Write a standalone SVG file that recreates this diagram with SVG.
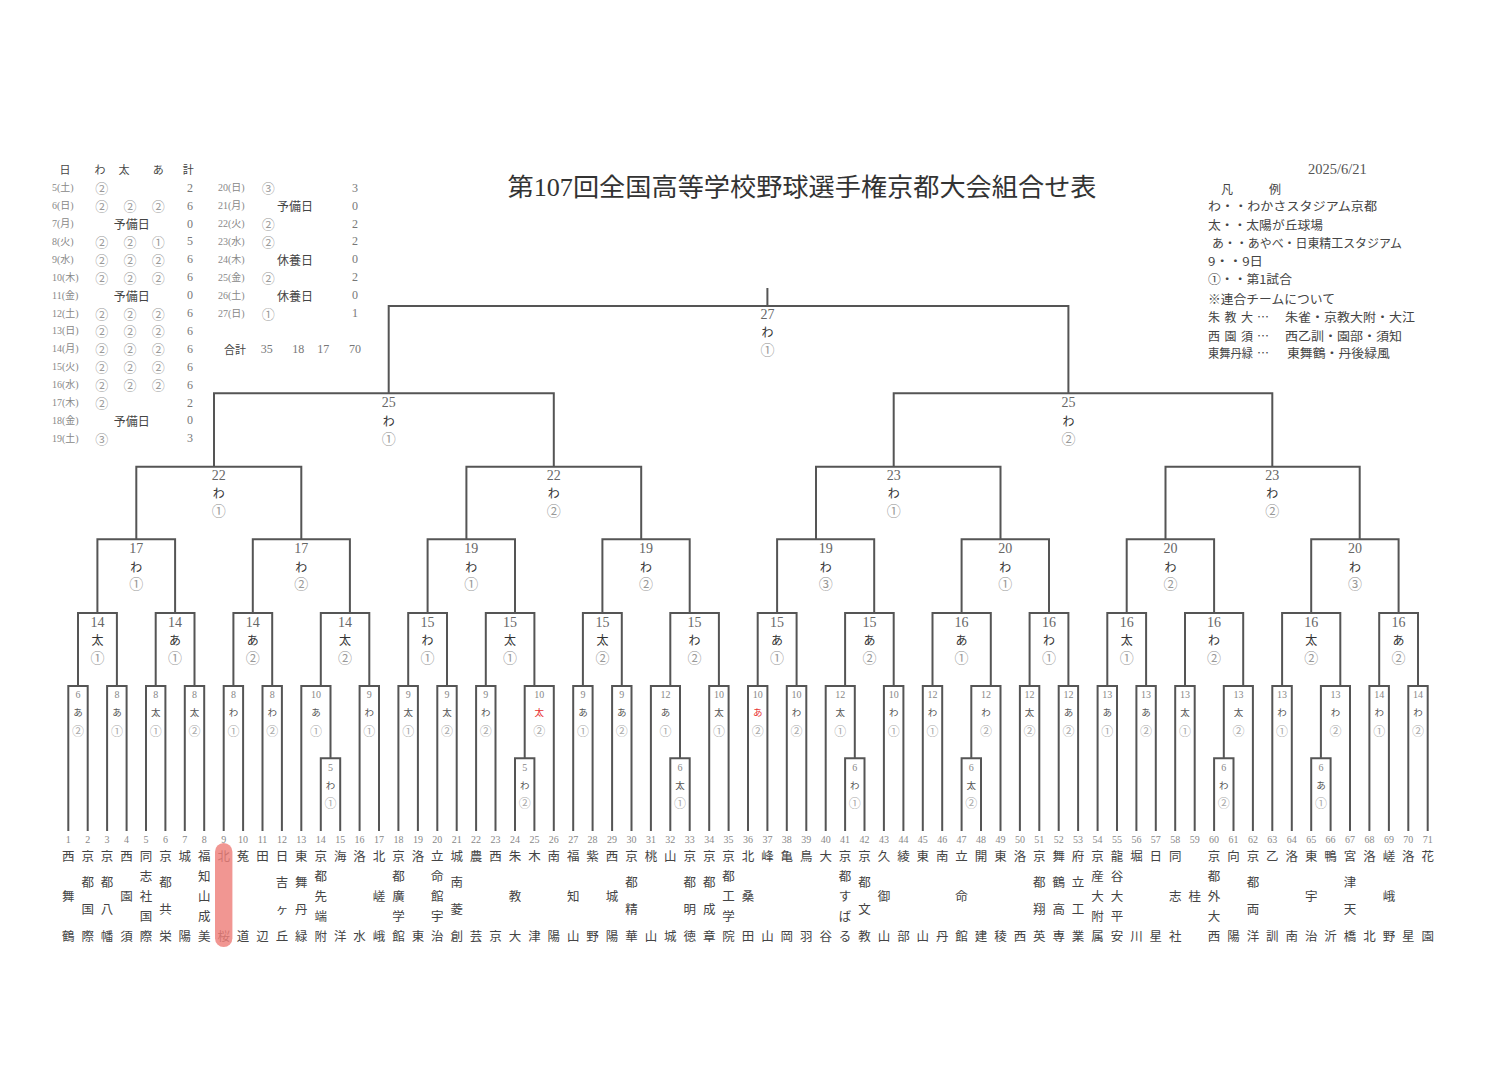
<svg xmlns="http://www.w3.org/2000/svg" width="1506" height="1080" viewBox="0 0 1506 1080">
<style>
.ln{fill:none;stroke:#555;stroke-width:2}
text{dominant-baseline:central}
.s{font-family:"Liberation Serif","Noto Sans CJK JP",serif}
.j{font-family:"Noto Sans CJK JP",sans-serif}
.n1{font-family:"Liberation Serif",serif;font-size:14px;fill:#666;text-anchor:middle}
.k1{font-family:"Noto Sans CJK JP",sans-serif;font-size:12px;fill:#333;text-anchor:middle}
.c1{font-family:"Noto Sans CJK JP",sans-serif;font-size:14px;fill:#999;text-anchor:middle}
.n2{font-family:"Liberation Serif",serif;font-size:10px;fill:#888;text-anchor:middle}
.k2{font-family:"Noto Sans CJK JP",sans-serif;font-size:9.5px;fill:#555;text-anchor:middle}
.c2{font-family:"Noto Sans CJK JP",sans-serif;font-size:12px;fill:#aaa;text-anchor:middle}
.red{fill:#e83030}
.tn{font-family:"Liberation Serif",serif;font-size:10px;fill:#888;text-anchor:middle}
.tm{font-family:"Noto Sans CJK JP",sans-serif;font-size:12.5px;fill:#444;text-anchor:middle}
.dt{font-family:"Liberation Serif","Noto Sans CJK JP",serif;font-size:10px;fill:#888}
.ci{font-family:"Noto Sans CJK JP",sans-serif;font-size:13px;fill:#999;text-anchor:middle}
.cn{font-family:"Liberation Serif",serif;font-size:12px;fill:#777;text-anchor:middle}
.yb{font-family:"Noto Sans CJK JP",sans-serif;font-size:12px;fill:#444;text-anchor:middle}
.hd{font-family:"Noto Sans CJK JP",sans-serif;font-size:11px;fill:#444;text-anchor:middle}
.lg{font-family:"Noto Sans CJK JP",sans-serif;font-size:12px;fill:#444}
</style>
<rect width="1506" height="1080" fill="#fff"/>

<g id="title">
<text class="s" x="802" y="187" font-size="25" fill="#333" text-anchor="middle" textLength="589" lengthAdjust="spacingAndGlyphs">第107回全国高等学校野球選手権京都大会組合せ表</text>
</g>

<g id="schedule">
<text class="hd" x="65" y="169.3">日</text><text class="hd" x="100" y="169.3">わ</text><text class="hd" x="124" y="169.3">太</text><text class="hd" x="158.3" y="169.3">あ</text><text class="hd" x="188.3" y="169.3">計</text>
<text class="dt" x="52" y="187.7">5(土)</text><text class="ci" x="101.7" y="187.7">②</text><text class="cn" x="190" y="187.7">2</text>
<text class="dt" x="52" y="205.6">6(日)</text><text class="ci" x="101.7" y="205.6">②</text><text class="ci" x="130" y="205.6">②</text><text class="ci" x="158.3" y="205.6">②</text><text class="cn" x="190" y="205.6">6</text>
<text class="dt" x="52" y="223.5">7(月)</text><text class="yb" x="131.7" y="223.5">予備日</text><text class="cn" x="190" y="223.5">0</text>
<text class="dt" x="52" y="241.4">8(火)</text><text class="ci" x="101.7" y="241.4">②</text><text class="ci" x="130" y="241.4">②</text><text class="ci" x="158.3" y="241.4">①</text><text class="cn" x="190" y="241.4">5</text>
<text class="dt" x="52" y="259.3">9(水)</text><text class="ci" x="101.7" y="259.3">②</text><text class="ci" x="130" y="259.3">②</text><text class="ci" x="158.3" y="259.3">②</text><text class="cn" x="190" y="259.3">6</text>
<text class="dt" x="52" y="277.2">10(木)</text><text class="ci" x="101.7" y="277.2">②</text><text class="ci" x="130" y="277.2">②</text><text class="ci" x="158.3" y="277.2">②</text><text class="cn" x="190" y="277.2">6</text>
<text class="dt" x="52" y="295.1">11(金)</text><text class="yb" x="131.7" y="295.1">予備日</text><text class="cn" x="190" y="295.1">0</text>
<text class="dt" x="52" y="313">12(土)</text><text class="ci" x="101.7" y="313">②</text><text class="ci" x="130" y="313">②</text><text class="ci" x="158.3" y="313">②</text><text class="cn" x="190" y="313">6</text>
<text class="dt" x="52" y="330.9">13(日)</text><text class="ci" x="101.7" y="330.9">②</text><text class="ci" x="130" y="330.9">②</text><text class="ci" x="158.3" y="330.9">②</text><text class="cn" x="190" y="330.9">6</text>
<text class="dt" x="52" y="348.8">14(月)</text><text class="ci" x="101.7" y="348.8">②</text><text class="ci" x="130" y="348.8">②</text><text class="ci" x="158.3" y="348.8">②</text><text class="cn" x="190" y="348.8">6</text>
<text class="dt" x="52" y="366.7">15(火)</text><text class="ci" x="101.7" y="366.7">②</text><text class="ci" x="130" y="366.7">②</text><text class="ci" x="158.3" y="366.7">②</text><text class="cn" x="190" y="366.7">6</text>
<text class="dt" x="52" y="384.6">16(水)</text><text class="ci" x="101.7" y="384.6">②</text><text class="ci" x="130" y="384.6">②</text><text class="ci" x="158.3" y="384.6">②</text><text class="cn" x="190" y="384.6">6</text>
<text class="dt" x="52" y="402.5">17(木)</text><text class="ci" x="101.7" y="402.5">②</text><text class="cn" x="190" y="402.5">2</text>
<text class="dt" x="52" y="420.4">18(金)</text><text class="yb" x="131.7" y="420.4">予備日</text><text class="cn" x="190" y="420.4">0</text>
<text class="dt" x="52" y="438.3">19(土)</text><text class="ci" x="101.7" y="438.3">③</text><text class="cn" x="190" y="438.3">3</text>

<text class="dt" x="218" y="187.7">20(日)</text><text class="ci" x="268.3" y="187.7">③</text><text class="cn" x="355" y="187.7">3</text>
<text class="dt" x="218" y="205.6">21(月)</text><text class="yb" x="295" y="205.6">予備日</text><text class="cn" x="355" y="205.6">0</text>
<text class="dt" x="218" y="223.5">22(火)</text><text class="ci" x="268.3" y="223.5">②</text><text class="cn" x="355" y="223.5">2</text>
<text class="dt" x="218" y="241.4">23(水)</text><text class="ci" x="268.3" y="241.4">②</text><text class="cn" x="355" y="241.4">2</text>
<text class="dt" x="218" y="259.3">24(木)</text><text class="yb" x="295" y="259.3">休養日</text><text class="cn" x="355" y="259.3">0</text>
<text class="dt" x="218" y="277.2">25(金)</text><text class="ci" x="268.3" y="277.2">②</text><text class="cn" x="355" y="277.2">2</text>
<text class="dt" x="218" y="295.1">26(土)</text><text class="yb" x="295" y="295.1">休養日</text><text class="cn" x="355" y="295.1">0</text>
<text class="dt" x="218" y="313">27(日)</text><text class="ci" x="268.3" y="313">①</text><text class="cn" x="355" y="313">1</text>
<text class="hd" x="235" y="348.8" fill="#555">合計</text><text class="cn" x="266.7" y="348.8">35</text><text class="cn" x="298.3" y="348.8">18</text><text class="cn" x="323.3" y="348.8">17</text><text class="cn" x="355" y="348.8">70</text>
</g>

<g id="legend">
<text class="s" x="1308" y="169" font-size="14.5" fill="#555">2025/6/21</text>
<text class="lg" x="1221" y="188">凡</text><text class="lg" x="1269" y="188">例</text>
<text class="lg" x="1208" y="205" textLength="169" lengthAdjust="spacingAndGlyphs">わ・・わかさスタジアム京都</text>
<text class="lg" x="1208" y="224" textLength="115" lengthAdjust="spacingAndGlyphs">太・・太陽が丘球場</text>
<text class="lg" x="1212" y="242" textLength="190" lengthAdjust="spacingAndGlyphs">あ・・あやべ・日東精工スタジアム</text>
<text class="lg" x="1208" y="260" textLength="55" lengthAdjust="spacingAndGlyphs">9・・9日</text>
<text class="lg" x="1208" y="278" textLength="84" lengthAdjust="spacingAndGlyphs">①・・第1試合</text>
<text class="lg" x="1208" y="298" textLength="127" lengthAdjust="spacingAndGlyphs">※連合チームについて</text>
<text class="lg" x="1208" y="316.7">朱</text><text class="lg" x="1224.5" y="316.7">教</text><text class="lg" x="1241" y="316.7">大</text><text class="lg" x="1257" y="316.7">…</text>
<text class="lg" x="1285" y="316.7" textLength="130" lengthAdjust="spacingAndGlyphs">朱雀・京教大附・大江</text>
<text class="lg" x="1208" y="335">西</text><text class="lg" x="1224.5" y="335">園</text><text class="lg" x="1241" y="335">須</text><text class="lg" x="1257" y="335">…</text>
<text class="lg" x="1285" y="335" textLength="117" lengthAdjust="spacingAndGlyphs">西乙訓・園部・須知</text>
<text class="lg" x="1208" y="352.3" textLength="45" lengthAdjust="spacingAndGlyphs">東舞丹緑</text><text class="lg" x="1257" y="352.3">…</text>
<text class="lg" x="1287" y="352.3" textLength="103" lengthAdjust="spacingAndGlyphs">東舞鶴・丹後緑風</text>
</g>

<g id="connectors">
<path class="ln" d="M767.4 288V306"/>
<path class="ln" d="M388.7 393.3V306H1068.4V393.3"/>
<path class="ln" d="M214.0 466.7V393.3H553.8V466.7"/>
<path class="ln" d="M893.7 466.7V393.3H1272.3V466.7"/>
<path class="ln" d="M136.3 539.3V466.7H301.3V539.3"/>
<path class="ln" d="M466.4 539.3V466.7H641.2V539.3"/>
<path class="ln" d="M816.0 539.3V466.7H1000.5V539.3"/>
<path class="ln" d="M1165.5 539.3V466.7H1359.7V539.3"/>
<path class="ln" d="M97.4 613V539.3H175.1V613"/>
<path class="ln" d="M252.8 613V539.3H349.9V613"/>
<path class="ln" d="M427.6 613V539.3H515.0V613"/>
<path class="ln" d="M602.4 613V539.3H689.7V613"/>
<path class="ln" d="M777.1 613V539.3H874.2V613"/>
<path class="ln" d="M961.6 613V539.3H1049.0V613"/>
<path class="ln" d="M1126.7 613V539.3H1214.1V613"/>
<path class="ln" d="M1311.2 613V539.3H1398.6V613"/>
<path class="ln" d="M78.0 686V613H116.9V686"/>
<path class="ln" d="M155.7 686V613H194.5V686"/>
<path class="ln" d="M233.4 686V613H272.2V686"/>
<path class="ln" d="M320.8 686V613H369.3V686"/>
<path class="ln" d="M408.2 686V613H447.0V686"/>
<path class="ln" d="M485.8 686V613H534.4V686"/>
<path class="ln" d="M582.9 686V613H621.8V686"/>
<path class="ln" d="M670.3 686V613H718.9V686"/>
<path class="ln" d="M757.7 686V613H796.6V686"/>
<path class="ln" d="M845.1 686V613H893.7V686"/>
<path class="ln" d="M932.5 686V613H990.8V686"/>
<path class="ln" d="M1029.6 686V613H1068.4V686"/>
<path class="ln" d="M1107.3 686V613H1146.1V686"/>
<path class="ln" d="M1185.0 686V613H1243.2V686"/>
<path class="ln" d="M1282.1 686V613H1340.3V686"/>
<path class="ln" d="M1379.2 686V613H1418.0V686"/>
<path class="ln" d="M68.3 831V686H87.7V831"/>
<path class="ln" d="M107.1 831V686H126.6V831"/>
<path class="ln" d="M146.0 831V686H165.4V831"/>
<path class="ln" d="M184.8 831V686H204.2V831"/>
<path class="ln" d="M223.7 831V686H243.1V831"/>
<path class="ln" d="M262.5 831V686H281.9V831"/>
<path class="ln" d="M301.3 831V686H330.5V758.3"/>
<path class="ln" d="M359.6 831V686H379.0V831"/>
<path class="ln" d="M398.4 831V686H417.9V831"/>
<path class="ln" d="M437.3 831V686H456.7V831"/>
<path class="ln" d="M476.1 831V686H495.5V831"/>
<path class="ln" d="M524.7 758.3V686H553.8V831"/>
<path class="ln" d="M573.2 831V686H592.6V831"/>
<path class="ln" d="M612.1 831V686H631.5V831"/>
<path class="ln" d="M650.9 831V686H680.0V758.3"/>
<path class="ln" d="M709.2 831V686H728.6V831"/>
<path class="ln" d="M748.0 831V686H767.4V831"/>
<path class="ln" d="M786.8 831V686H806.3V831"/>
<path class="ln" d="M825.7 831V686H854.8V758.3"/>
<path class="ln" d="M883.9 831V686H903.4V831"/>
<path class="ln" d="M922.8 831V686H942.2V831"/>
<path class="ln" d="M971.3 758.3V686H1000.5V831"/>
<path class="ln" d="M1019.9 831V686H1039.3V831"/>
<path class="ln" d="M1058.7 831V686H1078.1V831"/>
<path class="ln" d="M1097.6 831V686H1117.0V831"/>
<path class="ln" d="M1136.4 831V686H1155.8V831"/>
<path class="ln" d="M1175.2 831V686H1194.7V831"/>
<path class="ln" d="M1223.8 758.3V686H1252.9V831"/>
<path class="ln" d="M1272.3 831V686H1291.8V831"/>
<path class="ln" d="M1320.9 758.3V686H1350.0V831"/>
<path class="ln" d="M1369.4 831V686H1388.9V831"/>
<path class="ln" d="M1408.3 831V686H1427.7V831"/>
<path class="ln" d="M320.8 831V758.3H340.2V831"/>
<path class="ln" d="M515.0 831V758.3H534.4V831"/>
<path class="ln" d="M670.3 831V758.3H689.7V831"/>
<path class="ln" d="M845.1 831V758.3H864.5V831"/>
<path class="ln" d="M961.6 831V758.3H981.0V831"/>
<path class="ln" d="M1214.1 831V758.3H1233.5V831"/>
<path class="ln" d="M1311.2 831V758.3H1330.6V831"/>
</g>

<g id="m-F"><text class="n1" x="767.4" y="314.5">27</text><text class="k1" x="767.4" y="331.7">わ</text><text class="c1" x="767.4" y="349.3">①</text></g>
<g id="m-E1"><text class="n1" x="388.7" y="402.5">25</text><text class="k1" x="388.7" y="420">わ</text><text class="c1" x="388.7" y="437.5">①</text></g>
<g id="m-E2"><text class="n1" x="1068.4" y="402.5">25</text><text class="k1" x="1068.4" y="420">わ</text><text class="c1" x="1068.4" y="437.5">②</text></g>
<g id="m-D1"><text class="n1" x="218.8" y="475.5">22</text><text class="k1" x="218.8" y="492.7">わ</text><text class="c1" x="218.8" y="510">①</text></g>
<g id="m-D2"><text class="n1" x="553.8" y="475.5">22</text><text class="k1" x="553.8" y="492.7">わ</text><text class="c1" x="553.8" y="510">②</text></g>
<g id="m-D3"><text class="n1" x="893.7" y="475.5">23</text><text class="k1" x="893.7" y="492.7">わ</text><text class="c1" x="893.7" y="510">①</text></g>
<g id="m-D4"><text class="n1" x="1272.3" y="475.5">23</text><text class="k1" x="1272.3" y="492.7">わ</text><text class="c1" x="1272.3" y="510">②</text></g>
<g id="m-C1"><text class="n1" x="136.3" y="548.3">17</text><text class="k1" x="136.3" y="566">わ</text><text class="c1" x="136.3" y="583.3">①</text></g>
<g id="m-C2"><text class="n1" x="301.3" y="548.3">17</text><text class="k1" x="301.3" y="566">わ</text><text class="c1" x="301.3" y="583.3">②</text></g>
<g id="m-C3"><text class="n1" x="471.3" y="548.3">19</text><text class="k1" x="471.3" y="566">わ</text><text class="c1" x="471.3" y="583.3">①</text></g>
<g id="m-C4"><text class="n1" x="646.0" y="548.3">19</text><text class="k1" x="646.0" y="566">わ</text><text class="c1" x="646.0" y="583.3">②</text></g>
<g id="m-C5"><text class="n1" x="825.7" y="548.3">19</text><text class="k1" x="825.7" y="566">わ</text><text class="c1" x="825.7" y="583.3">③</text></g>
<g id="m-C6"><text class="n1" x="1005.3" y="548.3">20</text><text class="k1" x="1005.3" y="566">わ</text><text class="c1" x="1005.3" y="583.3">①</text></g>
<g id="m-C7"><text class="n1" x="1170.4" y="548.3">20</text><text class="k1" x="1170.4" y="566">わ</text><text class="c1" x="1170.4" y="583.3">②</text></g>
<g id="m-C8"><text class="n1" x="1354.9" y="548.3">20</text><text class="k1" x="1354.9" y="566">わ</text><text class="c1" x="1354.9" y="583.3">③</text></g>
<g id="m-B1"><text class="n1" x="97.4" y="622.3">14</text><text class="k1" x="97.4" y="639.7">太</text><text class="c1" x="97.4" y="656.7">①</text></g>
<g id="m-B2"><text class="n1" x="175.1" y="622.3">14</text><text class="k1" x="175.1" y="639.7">あ</text><text class="c1" x="175.1" y="656.7">①</text></g>
<g id="m-B3"><text class="n1" x="252.8" y="622.3">14</text><text class="k1" x="252.8" y="639.7">あ</text><text class="c1" x="252.8" y="656.7">②</text></g>
<g id="m-B4"><text class="n1" x="345.0" y="622.3">14</text><text class="k1" x="345.0" y="639.7">太</text><text class="c1" x="345.0" y="656.7">②</text></g>
<g id="m-B5"><text class="n1" x="427.6" y="622.3">15</text><text class="k1" x="427.6" y="639.7">わ</text><text class="c1" x="427.6" y="656.7">①</text></g>
<g id="m-B6"><text class="n1" x="510.1" y="622.3">15</text><text class="k1" x="510.1" y="639.7">太</text><text class="c1" x="510.1" y="656.7">①</text></g>
<g id="m-B7"><text class="n1" x="602.4" y="622.3">15</text><text class="k1" x="602.4" y="639.7">太</text><text class="c1" x="602.4" y="656.7">②</text></g>
<g id="m-B8"><text class="n1" x="694.6" y="622.3">15</text><text class="k1" x="694.6" y="639.7">わ</text><text class="c1" x="694.6" y="656.7">②</text></g>
<g id="m-B9"><text class="n1" x="777.1" y="622.3">15</text><text class="k1" x="777.1" y="639.7">あ</text><text class="c1" x="777.1" y="656.7">①</text></g>
<g id="m-B10"><text class="n1" x="869.4" y="622.3">15</text><text class="k1" x="869.4" y="639.7">あ</text><text class="c1" x="869.4" y="656.7">②</text></g>
<g id="m-B11"><text class="n1" x="961.6" y="622.3">16</text><text class="k1" x="961.6" y="639.7">あ</text><text class="c1" x="961.6" y="656.7">①</text></g>
<g id="m-B12"><text class="n1" x="1049.0" y="622.3">16</text><text class="k1" x="1049.0" y="639.7">わ</text><text class="c1" x="1049.0" y="656.7">①</text></g>
<g id="m-B13"><text class="n1" x="1126.7" y="622.3">16</text><text class="k1" x="1126.7" y="639.7">太</text><text class="c1" x="1126.7" y="656.7">①</text></g>
<g id="m-B14"><text class="n1" x="1214.1" y="622.3">16</text><text class="k1" x="1214.1" y="639.7">わ</text><text class="c1" x="1214.1" y="656.7">②</text></g>
<g id="m-B15"><text class="n1" x="1311.2" y="622.3">16</text><text class="k1" x="1311.2" y="639.7">太</text><text class="c1" x="1311.2" y="656.7">②</text></g>
<g id="m-B16"><text class="n1" x="1398.6" y="622.3">16</text><text class="k1" x="1398.6" y="639.7">あ</text><text class="c1" x="1398.6" y="656.7">②</text></g>

<g id="m-A1"><text class="n2" x="78.0" y="694.3">6</text><text class="k2" x="78.0" y="711.7">あ</text><text class="c2" x="78.0" y="730">②</text></g>
<g id="m-A2"><text class="n2" x="116.9" y="694.3">8</text><text class="k2" x="116.9" y="711.7">あ</text><text class="c2" x="116.9" y="730">①</text></g>
<g id="m-A3"><text class="n2" x="155.7" y="694.3">8</text><text class="k2" x="155.7" y="711.7">太</text><text class="c2" x="155.7" y="730">①</text></g>
<g id="m-A4"><text class="n2" x="194.5" y="694.3">8</text><text class="k2" x="194.5" y="711.7">太</text><text class="c2" x="194.5" y="730">②</text></g>
<g id="m-A5"><text class="n2" x="233.4" y="694.3">8</text><text class="k2" x="233.4" y="711.7">わ</text><text class="c2" x="233.4" y="730">①</text></g>
<g id="m-A6"><text class="n2" x="272.2" y="694.3">8</text><text class="k2" x="272.2" y="711.7">わ</text><text class="c2" x="272.2" y="730">②</text></g>
<g id="m-A7"><text class="n2" x="315.9" y="694.3">10</text><text class="k2" x="315.9" y="711.7">あ</text><text class="c2" x="315.9" y="730">①</text></g>
<g id="m-A8"><text class="n2" x="369.3" y="694.3">9</text><text class="k2" x="369.3" y="711.7">わ</text><text class="c2" x="369.3" y="730">①</text></g>
<g id="m-A9"><text class="n2" x="408.2" y="694.3">9</text><text class="k2" x="408.2" y="711.7">太</text><text class="c2" x="408.2" y="730">①</text></g>
<g id="m-A10"><text class="n2" x="447.0" y="694.3">9</text><text class="k2" x="447.0" y="711.7">太</text><text class="c2" x="447.0" y="730">②</text></g>
<g id="m-A11"><text class="n2" x="485.8" y="694.3">9</text><text class="k2" x="485.8" y="711.7">わ</text><text class="c2" x="485.8" y="730">②</text></g>
<g id="m-A12"><text class="n2" x="539.2" y="694.3">10</text><text class="k2 red" x="539.2" y="711.7">太</text><text class="c2" x="539.2" y="730">②</text></g>
<g id="m-A13"><text class="n2" x="582.9" y="694.3">9</text><text class="k2" x="582.9" y="711.7">あ</text><text class="c2" x="582.9" y="730">①</text></g>
<g id="m-A14"><text class="n2" x="621.8" y="694.3">9</text><text class="k2" x="621.8" y="711.7">あ</text><text class="c2" x="621.8" y="730">②</text></g>
<g id="m-A15"><text class="n2" x="665.5" y="694.3">12</text><text class="k2" x="665.5" y="711.7">あ</text><text class="c2" x="665.5" y="730">①</text></g>
<g id="m-A16"><text class="n2" x="718.9" y="694.3">10</text><text class="k2" x="718.9" y="711.7">太</text><text class="c2" x="718.9" y="730">①</text></g>
<g id="m-A17"><text class="n2" x="757.7" y="694.3">10</text><text class="k2 red" x="757.7" y="711.7">あ</text><text class="c2" x="757.7" y="730">②</text></g>
<g id="m-A18"><text class="n2" x="796.6" y="694.3">10</text><text class="k2" x="796.6" y="711.7">わ</text><text class="c2" x="796.6" y="730">②</text></g>
<g id="m-A19"><text class="n2" x="840.2" y="694.3">12</text><text class="k2" x="840.2" y="711.7">太</text><text class="c2" x="840.2" y="730">①</text></g>
<g id="m-A20"><text class="n2" x="893.7" y="694.3">10</text><text class="k2" x="893.7" y="711.7">わ</text><text class="c2" x="893.7" y="730">①</text></g>
<g id="m-A21"><text class="n2" x="932.5" y="694.3">12</text><text class="k2" x="932.5" y="711.7">わ</text><text class="c2" x="932.5" y="730">①</text></g>
<g id="m-A22"><text class="n2" x="985.9" y="694.3">12</text><text class="k2" x="985.9" y="711.7">わ</text><text class="c2" x="985.9" y="730">②</text></g>
<g id="m-A23"><text class="n2" x="1029.6" y="694.3">12</text><text class="k2" x="1029.6" y="711.7">太</text><text class="c2" x="1029.6" y="730">②</text></g>
<g id="m-A24"><text class="n2" x="1068.4" y="694.3">12</text><text class="k2" x="1068.4" y="711.7">あ</text><text class="c2" x="1068.4" y="730">②</text></g>
<g id="m-A25"><text class="n2" x="1107.3" y="694.3">13</text><text class="k2" x="1107.3" y="711.7">あ</text><text class="c2" x="1107.3" y="730">①</text></g>
<g id="m-A26"><text class="n2" x="1146.1" y="694.3">13</text><text class="k2" x="1146.1" y="711.7">あ</text><text class="c2" x="1146.1" y="730">②</text></g>
<g id="m-A27"><text class="n2" x="1185.0" y="694.3">13</text><text class="k2" x="1185.0" y="711.7">太</text><text class="c2" x="1185.0" y="730">①</text></g>
<g id="m-A28"><text class="n2" x="1238.4" y="694.3">13</text><text class="k2" x="1238.4" y="711.7">太</text><text class="c2" x="1238.4" y="730">②</text></g>
<g id="m-A29"><text class="n2" x="1282.1" y="694.3">13</text><text class="k2" x="1282.1" y="711.7">わ</text><text class="c2" x="1282.1" y="730">①</text></g>
<g id="m-A30"><text class="n2" x="1335.5" y="694.3">13</text><text class="k2" x="1335.5" y="711.7">わ</text><text class="c2" x="1335.5" y="730">②</text></g>
<g id="m-A31"><text class="n2" x="1379.2" y="694.3">14</text><text class="k2" x="1379.2" y="711.7">わ</text><text class="c2" x="1379.2" y="730">①</text></g>
<g id="m-A32"><text class="n2" x="1418.0" y="694.3">14</text><text class="k2" x="1418.0" y="711.7">わ</text><text class="c2" x="1418.0" y="730">②</text></g>

<g id="m-P1"><text class="n2" x="330.5" y="767.7">5</text><text class="k2" x="330.5" y="785">わ</text><text class="c2" x="330.5" y="802.3">①</text></g>
<g id="m-P2"><text class="n2" x="524.7" y="767.7">5</text><text class="k2" x="524.7" y="785">わ</text><text class="c2" x="524.7" y="802.3">②</text></g>
<g id="m-P3"><text class="n2" x="680.0" y="767.7">6</text><text class="k2" x="680.0" y="785">太</text><text class="c2" x="680.0" y="802.3">①</text></g>
<g id="m-P4"><text class="n2" x="854.8" y="767.7">6</text><text class="k2" x="854.8" y="785">わ</text><text class="c2" x="854.8" y="802.3">①</text></g>
<g id="m-P5"><text class="n2" x="971.3" y="767.7">6</text><text class="k2" x="971.3" y="785">太</text><text class="c2" x="971.3" y="802.3">②</text></g>
<g id="m-P6"><text class="n2" x="1223.8" y="767.7">6</text><text class="k2" x="1223.8" y="785">わ</text><text class="c2" x="1223.8" y="802.3">②</text></g>
<g id="m-P7"><text class="n2" x="1320.9" y="767.7">6</text><text class="k2" x="1320.9" y="785">あ</text><text class="c2" x="1320.9" y="802.3">①</text></g>

<g id="team-1"><text class="tn" x="68.3" y="839">1</text><text class="tm" x="68.3 68.3 68.3" y="855 895 935">西舞鶴</text></g>
<g id="team-2"><text class="tn" x="87.7" y="839">2</text><text class="tm" x="87.7 87.7 87.7 87.7" y="855 881.7 908.3 935">京都国際</text></g>
<g id="team-3"><text class="tn" x="107.1" y="839">3</text><text class="tm" x="107.1 107.1 107.1 107.1" y="855 881.7 908.3 935">京都八幡</text></g>
<g id="team-4"><text class="tn" x="126.6" y="839">4</text><text class="tm" x="126.6 126.6 126.6" y="855 895 935">西園須</text></g>
<g id="team-5"><text class="tn" x="146.0" y="839">5</text><text class="tm" x="146.0 146.0 146.0 146.0 146.0" y="855 875 895 915 935">同志社国際</text></g>
<g id="team-6"><text class="tn" x="165.4" y="839">6</text><text class="tm" x="165.4 165.4 165.4 165.4" y="855 881.7 908.3 935">京都共栄</text></g>
<g id="team-7"><text class="tn" x="184.8" y="839">7</text><text class="tm" x="184.8 184.8" y="855 935">城陽</text></g>
<g id="team-8"><text class="tn" x="204.2" y="839">8</text><text class="tm" x="204.2 204.2 204.2 204.2 204.2" y="855 875 895 915 935">福知山成美</text></g>
<g id="team-9"><text class="tn" x="223.7" y="839">9</text><text class="tm" x="223.7 223.7" y="855 935">北桜</text><rect x="215" y="843" width="17.4" height="104" rx="8.7" fill="#ee7f7a" fill-opacity="0.82"/></g>
<g id="team-10"><text class="tn" x="243.1" y="839">10</text><text class="tm" x="243.1 243.1" y="855 935">菟道</text></g>
<g id="team-11"><text class="tn" x="262.5" y="839">11</text><text class="tm" x="262.5 262.5" y="855 935">田辺</text></g>
<g id="team-12"><text class="tn" x="281.9" y="839">12</text><text class="tm" x="281.9 281.9 281.9 281.9" y="855 881.7 908.3 935">日吉ヶ丘</text></g>
<g id="team-13"><text class="tn" x="301.3" y="839">13</text><text class="tm" x="301.3 301.3 301.3 301.3" y="855 881.7 908.3 935">東舞丹緑</text></g>
<g id="team-14"><text class="tn" x="320.8" y="839">14</text><text class="tm" x="320.8 320.8 320.8 320.8 320.8" y="855 875 895 915 935">京都先端附</text></g>
<g id="team-15"><text class="tn" x="340.2" y="839">15</text><text class="tm" x="340.2 340.2" y="855 935">海洋</text></g>
<g id="team-16"><text class="tn" x="359.6" y="839">16</text><text class="tm" x="359.6 359.6" y="855 935">洛水</text></g>
<g id="team-17"><text class="tn" x="379.0" y="839">17</text><text class="tm" x="379.0 379.0 379.0" y="855 895 935">北嵯峨</text></g>
<g id="team-18"><text class="tn" x="398.4" y="839">18</text><text class="tm" x="398.4 398.4 398.4 398.4 398.4" y="855 875 895 915 935">京都廣学館</text></g>
<g id="team-19"><text class="tn" x="417.9" y="839">19</text><text class="tm" x="417.9 417.9" y="855 935">洛東</text></g>
<g id="team-20"><text class="tn" x="437.3" y="839">20</text><text class="tm" x="437.3 437.3 437.3 437.3 437.3" y="855 875 895 915 935">立命館宇治</text></g>
<g id="team-21"><text class="tn" x="456.7" y="839">21</text><text class="tm" x="456.7 456.7 456.7 456.7" y="855 881.7 908.3 935">城南菱創</text></g>
<g id="team-22"><text class="tn" x="476.1" y="839">22</text><text class="tm" x="476.1 476.1" y="855 935">農芸</text></g>
<g id="team-23"><text class="tn" x="495.5" y="839">23</text><text class="tm" x="495.5 495.5" y="855 935">西京</text></g>
<g id="team-24"><text class="tn" x="515.0" y="839">24</text><text class="tm" x="515.0 515.0 515.0" y="855 895 935">朱教大</text></g>
<g id="team-25"><text class="tn" x="534.4" y="839">25</text><text class="tm" x="534.4 534.4" y="855 935">木津</text></g>
<g id="team-26"><text class="tn" x="553.8" y="839">26</text><text class="tm" x="553.8 553.8" y="855 935">南陽</text></g>
<g id="team-27"><text class="tn" x="573.2" y="839">27</text><text class="tm" x="573.2 573.2 573.2" y="855 895 935">福知山</text></g>
<g id="team-28"><text class="tn" x="592.6" y="839">28</text><text class="tm" x="592.6 592.6" y="855 935">紫野</text></g>
<g id="team-29"><text class="tn" x="612.1" y="839">29</text><text class="tm" x="612.1 612.1 612.1" y="855 895 935">西城陽</text></g>
<g id="team-30"><text class="tn" x="631.5" y="839">30</text><text class="tm" x="631.5 631.5 631.5 631.5" y="855 881.7 908.3 935">京都精華</text></g>
<g id="team-31"><text class="tn" x="650.9" y="839">31</text><text class="tm" x="650.9 650.9" y="855 935">桃山</text></g>
<g id="team-32"><text class="tn" x="670.3" y="839">32</text><text class="tm" x="670.3 670.3" y="855 935">山城</text></g>
<g id="team-33"><text class="tn" x="689.7" y="839">33</text><text class="tm" x="689.7 689.7 689.7 689.7" y="855 881.7 908.3 935">京都明徳</text></g>
<g id="team-34"><text class="tn" x="709.2" y="839">34</text><text class="tm" x="709.2 709.2 709.2 709.2" y="855 881.7 908.3 935">京都成章</text></g>
<g id="team-35"><text class="tn" x="728.6" y="839">35</text><text class="tm" x="728.6 728.6 728.6 728.6 728.6" y="855 875 895 915 935">京都工学院</text></g>
<g id="team-36"><text class="tn" x="748.0" y="839">36</text><text class="tm" x="748.0 748.0 748.0" y="855 895 935">北桑田</text></g>
<g id="team-37"><text class="tn" x="767.4" y="839">37</text><text class="tm" x="767.4 767.4" y="855 935">峰山</text></g>
<g id="team-38"><text class="tn" x="786.8" y="839">38</text><text class="tm" x="786.8 786.8" y="855 935">亀岡</text></g>
<g id="team-39"><text class="tn" x="806.3" y="839">39</text><text class="tm" x="806.3 806.3" y="855 935">鳥羽</text></g>
<g id="team-40"><text class="tn" x="825.7" y="839">40</text><text class="tm" x="825.7 825.7" y="855 935">大谷</text></g>
<g id="team-41"><text class="tn" x="845.1" y="839">41</text><text class="tm" x="845.1 845.1 845.1 845.1 845.1" y="855 875 895 915 935">京都すばる</text></g>
<g id="team-42"><text class="tn" x="864.5" y="839">42</text><text class="tm" x="864.5 864.5 864.5 864.5" y="855 881.7 908.3 935">京都文教</text></g>
<g id="team-43"><text class="tn" x="883.9" y="839">43</text><text class="tm" x="883.9 883.9 883.9" y="855 895 935">久御山</text></g>
<g id="team-44"><text class="tn" x="903.4" y="839">44</text><text class="tm" x="903.4 903.4" y="855 935">綾部</text></g>
<g id="team-45"><text class="tn" x="922.8" y="839">45</text><text class="tm" x="922.8 922.8" y="855 935">東山</text></g>
<g id="team-46"><text class="tn" x="942.2" y="839">46</text><text class="tm" x="942.2 942.2" y="855 935">南丹</text></g>
<g id="team-47"><text class="tn" x="961.6" y="839">47</text><text class="tm" x="961.6 961.6 961.6" y="855 895 935">立命館</text></g>
<g id="team-48"><text class="tn" x="981.0" y="839">48</text><text class="tm" x="981.0 981.0" y="855 935">開建</text></g>
<g id="team-49"><text class="tn" x="1000.5" y="839">49</text><text class="tm" x="1000.5 1000.5" y="855 935">東稜</text></g>
<g id="team-50"><text class="tn" x="1019.9" y="839">50</text><text class="tm" x="1019.9 1019.9" y="855 935">洛西</text></g>
<g id="team-51"><text class="tn" x="1039.3" y="839">51</text><text class="tm" x="1039.3 1039.3 1039.3 1039.3" y="855 881.7 908.3 935">京都翔英</text></g>
<g id="team-52"><text class="tn" x="1058.7" y="839">52</text><text class="tm" x="1058.7 1058.7 1058.7 1058.7" y="855 881.7 908.3 935">舞鶴高専</text></g>
<g id="team-53"><text class="tn" x="1078.1" y="839">53</text><text class="tm" x="1078.1 1078.1 1078.1 1078.1" y="855 881.7 908.3 935">府立工業</text></g>
<g id="team-54"><text class="tn" x="1097.6" y="839">54</text><text class="tm" x="1097.6 1097.6 1097.6 1097.6 1097.6" y="855 875 895 915 935">京産大附属</text></g>
<g id="team-55"><text class="tn" x="1117.0" y="839">55</text><text class="tm" x="1117.0 1117.0 1117.0 1117.0 1117.0" y="855 875 895 915 935">龍谷大平安</text></g>
<g id="team-56"><text class="tn" x="1136.4" y="839">56</text><text class="tm" x="1136.4 1136.4" y="855 935">堀川</text></g>
<g id="team-57"><text class="tn" x="1155.8" y="839">57</text><text class="tm" x="1155.8 1155.8" y="855 935">日星</text></g>
<g id="team-58"><text class="tn" x="1175.2" y="839">58</text><text class="tm" x="1175.2 1175.2 1175.2" y="855 895 935">同志社</text></g>
<g id="team-59"><text class="tn" x="1194.7" y="839">59</text><text class="tm" x="1194.7" y="895">桂</text></g>
<g id="team-60"><text class="tn" x="1214.1" y="839">60</text><text class="tm" x="1214.1 1214.1 1214.1 1214.1 1214.1" y="855 875 895 915 935">京都外大西</text></g>
<g id="team-61"><text class="tn" x="1233.5" y="839">61</text><text class="tm" x="1233.5 1233.5" y="855 935">向陽</text></g>
<g id="team-62"><text class="tn" x="1252.9" y="839">62</text><text class="tm" x="1252.9 1252.9 1252.9 1252.9" y="855 881.7 908.3 935">京都両洋</text></g>
<g id="team-63"><text class="tn" x="1272.3" y="839">63</text><text class="tm" x="1272.3 1272.3" y="855 935">乙訓</text></g>
<g id="team-64"><text class="tn" x="1291.8" y="839">64</text><text class="tm" x="1291.8 1291.8" y="855 935">洛南</text></g>
<g id="team-65"><text class="tn" x="1311.2" y="839">65</text><text class="tm" x="1311.2 1311.2 1311.2" y="855 895 935">東宇治</text></g>
<g id="team-66"><text class="tn" x="1330.6" y="839">66</text><text class="tm" x="1330.6 1330.6" y="855 935">鴨沂</text></g>
<g id="team-67"><text class="tn" x="1350.0" y="839">67</text><text class="tm" x="1350.0 1350.0 1350.0 1350.0" y="855 881.7 908.3 935">宮津天橋</text></g>
<g id="team-68"><text class="tn" x="1369.4" y="839">68</text><text class="tm" x="1369.4 1369.4" y="855 935">洛北</text></g>
<g id="team-69"><text class="tn" x="1388.9" y="839">69</text><text class="tm" x="1388.9 1388.9 1388.9" y="855 895 935">嵯峨野</text></g>
<g id="team-70"><text class="tn" x="1408.3" y="839">70</text><text class="tm" x="1408.3 1408.3" y="855 935">洛星</text></g>
<g id="team-71"><text class="tn" x="1427.7" y="839">71</text><text class="tm" x="1427.7 1427.7" y="855 935">花園</text></g>
</svg>
